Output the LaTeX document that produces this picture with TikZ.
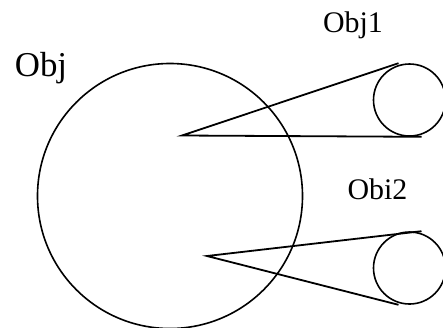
\documentclass[tikz,border=0pt]{standalone}
\usepackage{fontspec}
\setmainfont{Liberation Serif}
\usetikzlibrary{calc}
\begin{document}
\begin{tikzpicture}[x=1bp,y=-1bp,
  ring/.style={circle,draw,line width=1.6bp,inner sep=0pt},
  edge/.style={line width=1.8bp},
  label/.style={anchor=base,inner sep=0pt}]
\useasboundingbox (0,0) rectangle (443,327);
% main object and its two parts
\node[ring,minimum size=265bp] (obj) at (170,196) {};
\node[ring,minimum size=72bp] (o1) at (409.5,100) {};
\node[ring,minimum size=72bp] (o2) at (409.5,268) {};
% apexes of the two wedges
\coordinate (a1) at (182,135.5);
\coordinate (a2) at (207,256);
% wedge ends on the small circles
\coordinate (t1) at ($(o1.north)+(-11,0)$);
\coordinate (b1) at ($(o1.south)+(12,0)$);
\coordinate (t2) at ($(o2.north)+(12,0)$);
\coordinate (b2) at ($(o2.south)+(-11,0)$);
\draw[edge] (t1) -- (a1) -- (b1);
\draw[edge] (t2) -- (a2) -- (b2);
% labels
\node[label,font=\fontsize{35}{35}\selectfont] (lobj) at (41,76) {Obj};
\node[label,font=\fontsize{30}{30}\selectfont] (lo1) at (353,32) {Obj1};
\node[label,font=\fontsize{30}{30}\selectfont] (lo2) at (377.5,199) {Obi2};
\end{tikzpicture}
\end{document}
